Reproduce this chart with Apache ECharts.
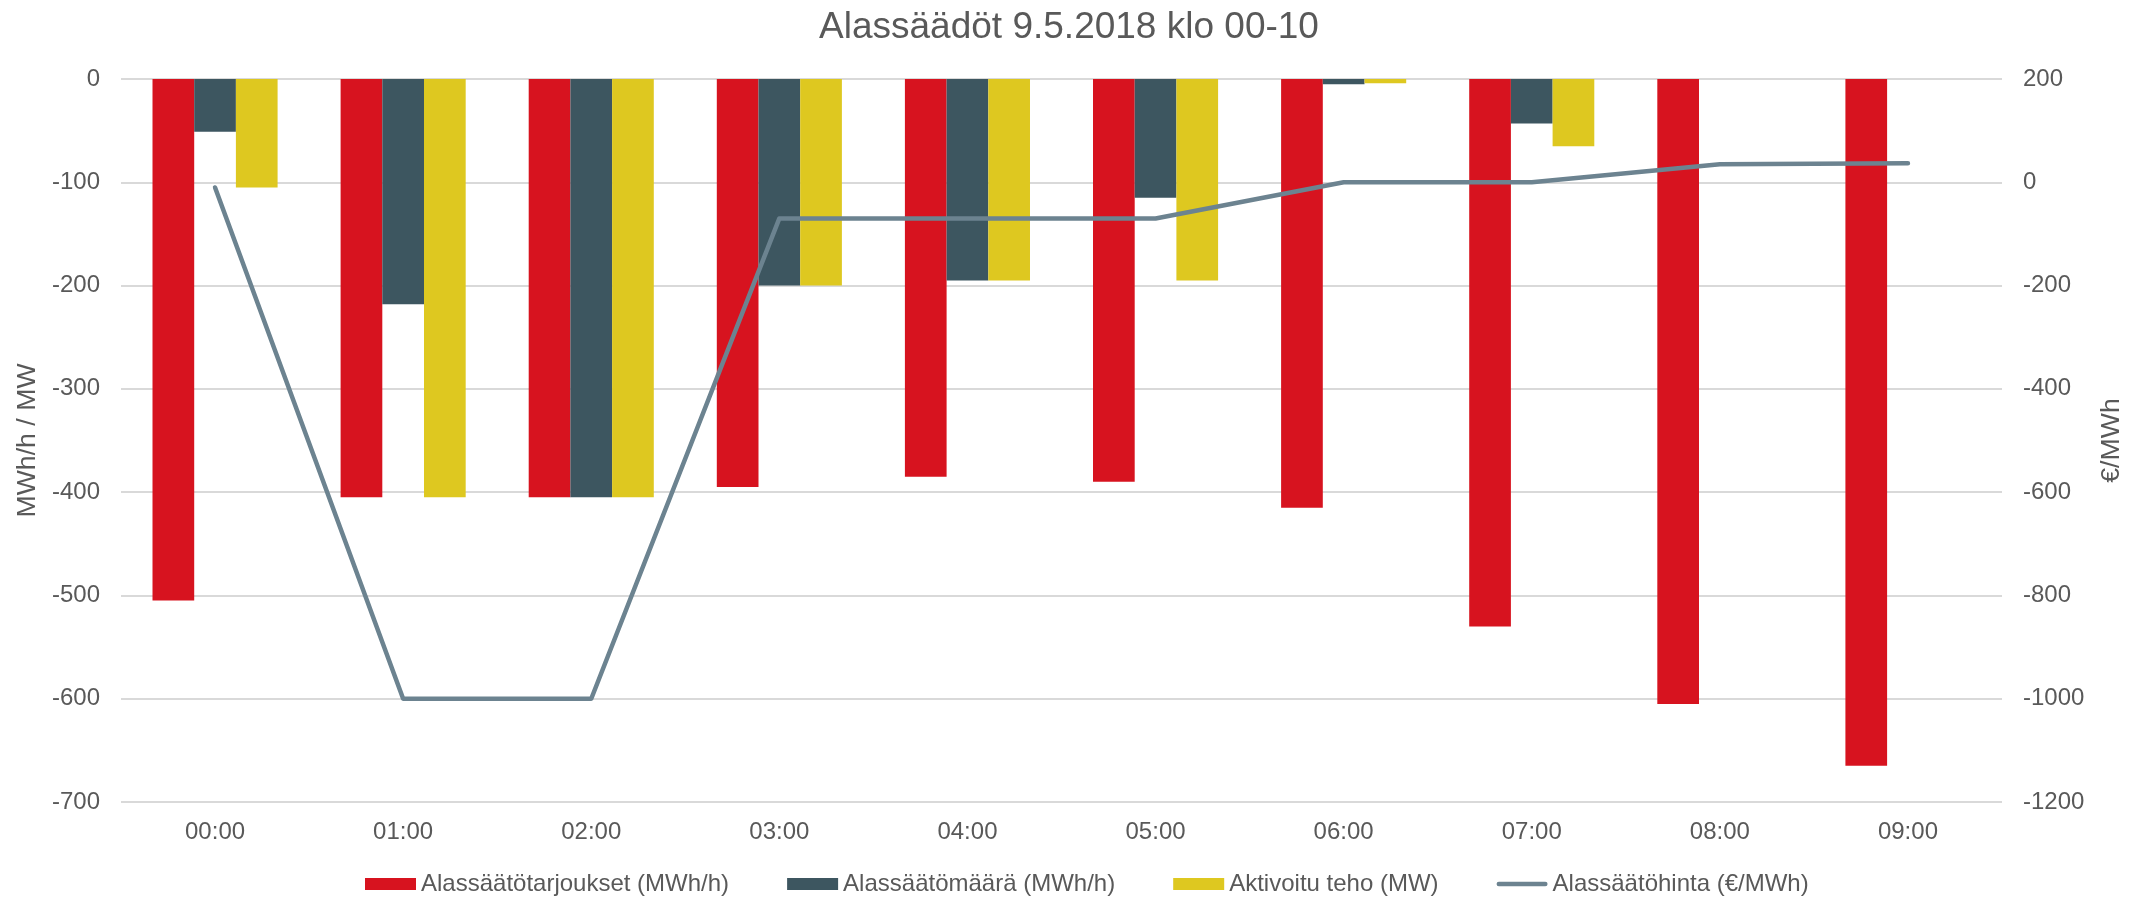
<!DOCTYPE html>
<html>
<head>
<meta charset="utf-8">
<script src="https://cdn.jsdelivr.net/npm/echarts@6/dist/echarts.min.js"></script>
<style>
html, body { margin: 0; padding: 0; background: #fff; }
#chart { width: 2138px; height: 897px; }
</style>
</head>
<body>
<div id="chart"></div>
<script>
var hours = ["00:00", "01:00", "02:00", "03:00", "04:00", "05:00", "06:00", "07:00", "08:00", "09:00"];
// alassäätötarjoukset (MWh/h)
var offers = [-505, -405, -405, -395, -385, -390, -415, -530, -605, -665];
// alassäätömäärä (MWh/h)
var amount = [-51, -218, -405, -200, -195, -115, -5, -43, 0, 0];
// aktivoitu teho (MW)
var activated = [-105, -405, -405, -200, -195, -195, -4, -65, 0, 0];
// alassäätöhinta (€/MWh)
var price = [-10, -1000, -1000, -70, -70, -70, 0, 0, 35, 37];

var font = "'Liberation Sans', Arial, sans-serif";
var txt = "#595959";
// thin rounded bar as legend icon for the price line
var lineIcon = "path://M0,0 L0.01,0 L0,0 Z M0,12 L0.01,12 L0,12 Z M2.5,3.5 L53.5,3.5 A2.5,2.5 0 0 1 53.5,8.5 L2.5,8.5 A2.5,2.5 0 0 1 2.5,3.5 Z";

var chart = echarts.init(document.getElementById("chart"));
chart.setOption({
	animation: false,
	textStyle: { fontFamily: font },
	title: {
		text: "Alassäädöt 9.5.2018 klo 00-10",
		left: "center",
		top: 4,
		textStyle: { fontFamily: font, fontSize: 37, fontWeight: "normal", color: txt }
	},
	legend: {
		left: 360,
		top: 867,
		itemWidth: 51,
		itemHeight: 12,
		itemGap: 58,
		textStyle: { fontFamily: font, fontSize: 24, color: txt },
		data: [
			{ name: "Alassäätötarjoukset (MWh/h)", icon: "rect" },
			{ name: "Alassäätömäärä (MWh/h)", icon: "rect" },
			{ name: "Aktivoitu teho (MW)", icon: "rect" },
			{ name: "Alassäätöhinta (€/MWh)", icon: lineIcon }
		]
	},
	grid: { left: 121, right: 136, top: 79, bottom: 95 },
	xAxis: {
		type: "category",
		data: hours,
		axisLine: { show: false },
		axisTick: { show: false },
		axisLabel: { fontFamily: font, fontSize: 24, color: txt, margin: 18 }
	},
	yAxis: [{
		type: "value",
		min: -700,
		max: 0,
		interval: 100,
		name: "MWh/h / MW",
		nameLocation: "middle",
		nameRotate: 90,
		nameGap: 78,
		nameTextStyle: { fontFamily: font, fontSize: 26.7, color: txt },
		axisLabel: { fontFamily: font, fontSize: 24, color: txt, margin: 21 },
		axisLine: { show: false },
		axisTick: { show: false },
		splitLine: { lineStyle: { color: "#d9d9d9", width: 2 } }
	}, {
		type: "value",
		min: -1200,
		max: 200,
		interval: 200,
		name: "€/MWh",
		nameLocation: "middle",
		nameRotate: 90,
		nameGap: 96,
		nameTextStyle: { fontFamily: font, fontSize: 26.7, color: txt },
		axisLabel: {
			fontFamily: font, fontSize: 24, color: txt, margin: 21,
			formatter: function(v) { return String(v); }
		},
		axisLine: { show: false },
		axisTick: { show: false },
		splitLine: { show: false }
	}],
	series: [{
		name: "Alassäätötarjoukset (MWh/h)",
		type: "bar",
		data: offers,
		barGap: "0%",
		barCategoryGap: "33.5%",
		itemStyle: { color: "#d7131f" }
	}, {
		name: "Alassäätömäärä (MWh/h)",
		type: "bar",
		data: amount,
		barGap: "0%",
		barCategoryGap: "33.5%",
		itemStyle: { color: "#3d5660" }
	}, {
		name: "Aktivoitu teho (MW)",
		type: "bar",
		data: activated,
		barGap: "0%",
		barCategoryGap: "33.5%",
		itemStyle: { color: "#dec820" }
	}, {
		name: "Alassäätöhinta (€/MWh)",
		type: "line",
		yAxisIndex: 1,
		data: price,
		symbol: "none",
		itemStyle: { color: "#6c8390" },
		lineStyle: { color: "#6c8390", width: 4.5, cap: "round", join: "round" }
	}]
});
</script>
</body>
</html>
